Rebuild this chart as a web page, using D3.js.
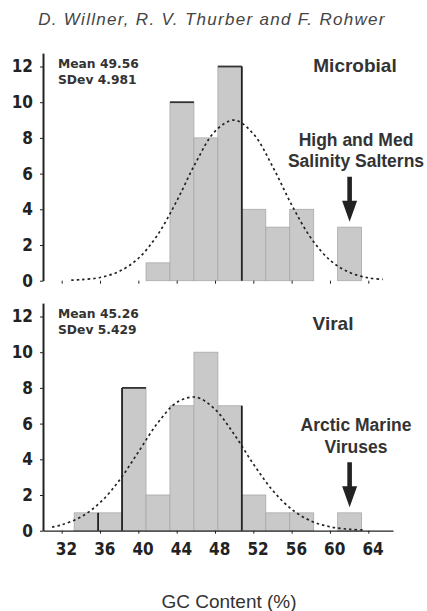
<!DOCTYPE html>
<html>
<head>
<meta charset="utf-8">
<script src="https://cdn.jsdelivr.net/npm/d3@7/dist/d3.min.js"></script>
<style>
  body { margin: 0; background: #fff; }
  svg { display: block; }
  .tick text { font-family: "Liberation Sans Narrow", "DejaVu Sans Condensed", "Liberation Sans", sans-serif; font-weight: bold; font-size: 17px; fill: #222; }
  .tick line, .domain { stroke: #222; }
</style>
</head>
<body>
<script>
// histogram bins (GC content %, 2.5 wide)
var binEdges = [33.3, 35.8, 38.3, 40.8, 43.3, 45.8, 48.3, 50.8, 53.3, 55.8, 58.3, 60.8, 63.3];
var microbialCounts = [0, 0, 0, 1, 10, 8, 12, 4, 3, 4, 0, 3];
var viralCounts = [1, 1, 8, 2, 7, 10, 7, 2, 1, 1, 0, 1];

// fitted normal curves
var microbialFit = [[33, 0.03], [34, 0.06], [36, 0.18], [38, 0.52], [40, 1.25], [42, 2.56], [44, 4.46], [46, 6.62],
    [48, 8.37], [50, 9.0], [52, 8.23], [54, 6.41], [56, 4.25], [58, 2.4], [60, 1.15], [62, 0.47], [64, 0.16], [65.5, 0.07]];
var viralFit = [[31, 0.2], [32, 0.33], [34, 0.77], [36, 1.57], [38, 2.81], [40, 4.41], [42, 6.02], [44, 7.18], [46, 7.48],
    [48, 6.8], [50, 5.4], [52, 3.74], [54, 2.27], [56, 1.2], [58, 0.55], [60, 0.22], [62, 0.08], [63.5, 0.04]];

// bins whose outline is inked darker in the figure
var microbialInkTop = [4, 6];
var microbialInkLeft = [7];
var viralInkTop = [2];
var viralInkLeft = [1, 2, 7];

var xTicks = [32, 36, 40, 44, 48, 52, 56, 60, 64];
var yTicks = [0, 2, 4, 6, 8, 10, 12];

var microbialStats = ["Mean 49.56", "SDev 4.981"];
var viralStats = ["Mean 45.26", "SDev 5.429"];
var microbialNote = ["High and Med", "Salinity Salterns"];
var viralNote = ["Arctic Marine", "Viruses"];
var arrowBin = 11;

var width = 427, height = 611;
var unit = 17.85;

var svg = d3.select("body").append("svg")
    .attr("width", width)
    .attr("height", height);

svg.append("rect").attr("width", width).attr("height", height).attr("fill", "#fff");

var x = d3.scaleLinear().domain([32, 64]).range([61.7, 368.3]);
var axisX = 43;

svg.append("text")
    .attr("x", 212)
    .attr("y", 25)
    .attr("text-anchor", "middle")
    .attr("font-family", "Liberation Sans, Arial, sans-serif")
    .attr("font-style", "italic")
    .attr("font-size", 17)
    .attr("letter-spacing", 1.3)
    .attr("fill", "#444")
    .text("D. Willner, R. V. Thurber and F. Rohwer");

var panels = [
    { name: "Microbial", counts: microbialCounts, fit: microbialFit, stats: microbialStats, note: microbialNote,
      inkTop: microbialInkTop, inkLeft: microbialInkLeft, base: 280.7, nameX: 355, nameDy: -208.7, xAxisLine: false },
    { name: "Viral", counts: viralCounts, fit: viralFit, stats: viralStats, note: viralNote,
      inkTop: viralInkTop, inkLeft: viralInkLeft, base: 530.7, nameX: 333, nameDy: -200.7, xAxisLine: true }
];

panels.forEach(function (p) {
    var y = d3.scaleLinear().domain([0, 12.75]).range([p.base, p.base - 12.75 * unit]);
    var g = svg.append("g");

    var bins = p.counts.map(function (c, i) { return { x0: binEdges[i], x1: binEdges[i + 1], n: c, i: i }; });

    // bars
    g.selectAll(".bar")
        .data(bins.filter(function (d) { return d.n > 0; }))
        .enter().append("rect")
        .attr("class", "bar")
        .attr("x", function (d) { return x(d.x0); })
        .attr("y", function (d) { return y(d.n); })
        .attr("width", function (d) { return x(d.x1) - x(d.x0); })
        .attr("height", function (d) { return y(0) - y(d.n); })
        .attr("fill", "#c9c9c9")
        .attr("stroke", "#a8a8a8")
        .attr("stroke-width", 0.8);

    // darker edges
    g.selectAll(".ink-top")
        .data(p.inkTop)
        .enter().append("line")
        .attr("x1", function (i) { return x(binEdges[i]); })
        .attr("x2", function (i) { return x(binEdges[i + 1]); })
        .attr("y1", function (i) { return y(p.counts[i]); })
        .attr("y2", function (i) { return y(p.counts[i]); })
        .attr("stroke", "#333")
        .attr("stroke-width", 1.8);

    g.selectAll(".ink-left")
        .data(p.inkLeft)
        .enter().append("line")
        .attr("x1", function (i) { return x(binEdges[i]); })
        .attr("x2", function (i) { return x(binEdges[i]); })
        .attr("y1", y(0))
        .attr("y2", function (i) { return y(Math.max(p.counts[i], p.counts[i - 1])); })
        .attr("stroke", "#222")
        .attr("stroke-width", 1.8);

    // fitted normal curve
    var line = d3.line()
        .x(function (d) { return x(d[0]); })
        .y(function (d) { return y(d[1]); })
        .curve(d3.curveCatmullRom);

    g.append("path")
        .datum(p.fit)
        .attr("d", line)
        .attr("fill", "none")
        .attr("stroke", "#222")
        .attr("stroke-width", 1.7)
        .attr("stroke-dasharray", "2.5,3");

    // y axis
    g.append("g")
        .attr("transform", "translate(" + axisX + ",0)")
        .call(d3.axisLeft(y).tickValues(yTicks).tickSize(3).tickPadding(7).tickSizeOuter(0))
        .call(function (a) { a.select(".domain").attr("stroke-width", 2); });

    // x axis
    var xa = x.copy().domain([x.invert(axisX), x.invert(393)]).range([axisX, 393]);
    var ax = g.append("g")
        .attr("transform", "translate(0," + p.base + ")")
        .call(d3.axisBottom(xa).tickValues(xTicks).tickSize(3).tickPadding(9).tickSizeOuter(0));
    ax.selectAll(".tick text").attr("dx", "0.25em");
    if (!p.xAxisLine) {
        ax.select(".domain").remove();
        ax.selectAll(".tick text").remove();
        ax.selectAll(".tick line").attr("stroke", "#777");
    } else {
        ax.select(".domain").attr("stroke-width", 1.3);
    }

    // stats
    g.selectAll(".stat")
        .data(p.stats)
        .enter().append("text")
        .attr("x", 58)
        .attr("y", function (d, i) { return p.base - 212.7 + i * 16; })
        .attr("font-family", "DejaVu Sans, sans-serif")
        .attr("font-weight", "bold")
        .attr("font-size", 12.3)
        .attr("fill", "#333")
        .text(function (d) { return d; });

    // panel name
    g.append("text")
        .attr("x", p.nameX)
        .attr("y", p.base + p.nameDy)
        .attr("text-anchor", "middle")
        .attr("font-family", "Liberation Sans, Arial, sans-serif")
        .attr("font-weight", "bold")
        .attr("font-size", 19)
        .attr("fill", "#333")
        .text(p.name);

    // arrow to the outlier bin
    var ax0 = x((binEdges[arrowBin] + binEdges[arrowBin + 1]) / 2);
    var tip = y(p.counts[arrowBin]) - 5.5;
    var top = tip - 45, headTop = tip - 21;
    g.append("path")
        .attr("d", "M" + (ax0 - 2.3) + "," + top + "L" + (ax0 + 2.3) + "," + top +
            "L" + (ax0 + 2.3) + "," + headTop + "L" + (ax0 + 7.5) + "," + headTop +
            "L" + ax0 + "," + tip + "L" + (ax0 - 7.5) + "," + headTop +
            "L" + (ax0 - 2.3) + "," + headTop + "Z")
        .attr("fill", "#222");

    g.selectAll(".note")
        .data(p.note)
        .enter().append("text")
        .attr("x", 356)
        .attr("y", function (d, i) { return top - 9.5 - (p.note.length - 1 - i) * 21.5; })
        .attr("text-anchor", "middle")
        .attr("font-family", "Liberation Sans, Arial, sans-serif")
        .attr("font-weight", "bold")
        .attr("font-size", 17.5)
        .attr("fill", "#333")
        .text(function (d) { return d; });
});

svg.append("text")
    .attr("x", 229)
    .attr("y", 608)
    .attr("text-anchor", "middle")
    .attr("font-family", "Liberation Sans, Arial, sans-serif")
    .attr("font-size", 19)
    .attr("fill", "#333")
    .text("GC Content (%)");
</script>
</body>
</html>
